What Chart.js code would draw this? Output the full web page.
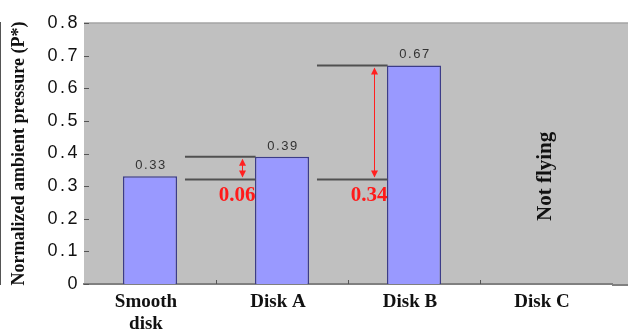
<!DOCTYPE html>
<html>
<head>
<meta charset="utf-8">
<script src="https://cdn.jsdelivr.net/npm/chart.js@4.4.1/dist/chart.umd.min.js"></script>
<style>
  html, body { margin: 0; padding: 0; background: #fff; }
</style>
</head>
<body>
<canvas id="PressureChart" width="628" height="332"></canvas>
<script>
// chart data
const categories = [["Smooth", "disk"], "Disk A", "Disk B", "Disk C"];
const pressure = [0.33, 0.39, 0.67, null];
const yTicks = [0, 0.1, 0.2, 0.3, 0.4, 0.5, 0.6, 0.7, 0.8];

// difference brackets (category index, upper value, lower value, label)
const diffCategory = [1, 2];
const diffUpper = [0.39, 0.67];
const diffLower = [0.32, 0.32];
const diffLabels = ["0.06", "0.34"];

const noteCategory = 3;
const noteText = "Not flying";

////////////// drawing helpers
function arrowHead(ctx, x, y, dir) {
  // dir = -1 points up, 1 points down
  ctx.beginPath();
  ctx.moveTo(x, y);
  ctx.lineTo(x - 3.5, y - dir * 7);
  ctx.lineTo(x + 3.5, y - dir * 7);
  ctx.closePath();
  ctx.fill();
}

const decorPlugin = {
  id: "decor",
  beforeDraw(chart) {
    const { ctx, chartArea: a, width } = chart;
    ctx.save();
    ctx.fillStyle = "#c0c0c0";
    ctx.fillRect(a.left, a.top, width - a.left, a.bottom - a.top);
    ctx.strokeStyle = "#a4a4a4";
    ctx.lineWidth = 1.5;
    ctx.beginPath();
    ctx.moveTo(a.left, a.top);
    ctx.lineTo(width, a.top);
    ctx.stroke();
    ctx.strokeStyle = "#808080";
    ctx.lineWidth = 2;
    ctx.beginPath();
    ctx.moveTo(a.right, a.bottom + 1);
    ctx.lineTo(width, a.bottom + 1);
    ctx.stroke();
    ctx.restore();
    // y tick labels look wide in the original
    ctx.letterSpacing = "2.5px";
  },
  beforeDatasetsDraw(chart) {
    const { ctx, chartArea: a, scales } = chart;
    ctx.letterSpacing = "0px";
    ctx.save();
    ctx.strokeStyle = "#555";
    ctx.lineWidth = 1;
    yTicks.forEach(v => {
      const y = Math.round(scales.y.getPixelForValue(v)) + 0.5;
      ctx.beginPath();
      ctx.moveTo(a.left, y);
      ctx.lineTo(a.left + 5, y);
      ctx.stroke();
    });
    for (let i = 1; i < categories.length; i++) {
      const x = Math.round((scales.x.getPixelForValue(i - 1) + scales.x.getPixelForValue(i)) / 2) + 0.5;
      ctx.beginPath();
      ctx.moveTo(x, a.bottom);
      ctx.lineTo(x, a.bottom - 4);
      ctx.stroke();
    }
    ctx.restore();
  },
  afterDatasetsDraw(chart) {
    const { ctx, scales } = chart;
    const meta = chart.getDatasetMeta(0);
    const step = scales.x.getPixelForValue(1) - scales.x.getPixelForValue(0);
    ctx.save();

    // value labels above the bars
    ctx.font = "13px 'Liberation Sans'";
    ctx.letterSpacing = "1.5px";
    ctx.fillStyle = "#333";
    ctx.textAlign = "center";
    ctx.textBaseline = "bottom";
    pressure.forEach((v, i) => {
      if (v === null) return;
      const bar = meta.data[i];
      ctx.fillText(v.toFixed(2), bar.x + 1, bar.y - 4);
    });
    ctx.letterSpacing = "0px";

    // brackets with red arrows
    diffCategory.forEach((c, k) => {
      const xc = scales.x.getPixelForValue(c);
      const x0 = xc - 0.735 * step;
      const x1 = xc - 0.2 * step;
      const yU = scales.y.getPixelForValue(diffUpper[k]);
      const yL = scales.y.getPixelForValue(diffLower[k]);
      ctx.strokeStyle = "#505050";
      ctx.lineWidth = 2;
      ctx.beginPath();
      ctx.moveTo(x0, yU);
      ctx.lineTo(x1, yU);
      ctx.moveTo(x0, yL);
      ctx.lineTo(x1, yL);
      ctx.stroke();

      const xa = Math.round(xc - 0.3 * step) + 0.5;
      ctx.strokeStyle = "#ff2020";
      ctx.fillStyle = "#ff2020";
      ctx.lineWidth = 1;
      ctx.beginPath();
      ctx.moveTo(xa, yU + 3);
      ctx.lineTo(xa, yL - 3);
      ctx.stroke();
      arrowHead(ctx, xa, yU + 2, -1);
      arrowHead(ctx, xa, yL - 2, 1);

      ctx.font = "bold 21px 'Liberation Serif'";
      ctx.fillStyle = "#ff1a1a";
      ctx.textAlign = "center";
      ctx.textBaseline = "middle";
      ctx.fillText(diffLabels[k], xc - 0.34 * step, yL + 16);
    });

    // rotated note for Disk C
    const xn = scales.x.getPixelForValue(noteCategory);
    const yn = scales.y.getPixelForValue(0.33);
    ctx.translate(xn, yn);
    ctx.rotate(-Math.PI / 2);
    ctx.font = "bold 21px 'Liberation Serif'";
    ctx.fillStyle = "#111";
    ctx.textAlign = "center";
    ctx.textBaseline = "middle";
    ctx.fillText(noteText, 0, 0);
    ctx.restore();
  }
};

////////////// CHART INITIALIZATION
const ctxPressure = document.getElementById("PressureChart").getContext("2d");

const pressureChart = new Chart(ctxPressure, {
  type: "bar",
  data: {
    labels: categories,
    datasets: [{
      data: pressure,
      backgroundColor: "#9999ff",
      borderColor: "#3c3c88",
      borderWidth: 1.5,
      barPercentage: 0.41,
      categoryPercentage: 1
    }]
  },
  options: {
    responsive: false,
    animation: false,
    layout: { padding: { top: 23, right: 16, left: 0, bottom: 0 } },
    plugins: {
      legend: { display: false },
      tooltip: { enabled: false }
    },
    scales: {
      x: {
        grid: { display: false, drawTicks: false },
        border: { color: "#808080", width: 2 },
        ticks: {
          color: "#111",
          font: { family: "Liberation Serif", size: 19, weight: "bold", lineHeight: 1.15 },
          padding: 7,
          labelOffset: -4,
          maxRotation: 0,
          autoSkip: false,
          z: 1
        },
        afterFit(scale) { scale.height = 48; }
      },
      y: {
        min: 0,
        max: 0.8,
        afterBuildTicks(scale) { scale.ticks = yTicks.map(v => ({ value: v })); },
        grid: { display: false, drawTicks: false, z: 1 },
        border: { color: "#555", width: 2 },
        ticks: {
          color: "#111",
          font: { family: "Liberation Sans", size: 18 },
          padding: 4
        },
        title: {
          display: true,
          text: "Normalized ambient pressure (P*)",
          color: "#111",
          font: { family: "Liberation Serif", size: 18, weight: "bold" },
          padding: { top: 9, bottom: 0 }
        },
        afterFit(scale) { scale.width = 84; }
      }
    }
  },
  plugins: [decorPlugin]
});
</script>
</body>
</html>
